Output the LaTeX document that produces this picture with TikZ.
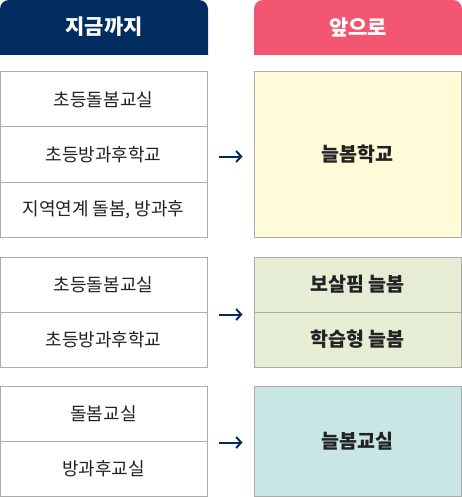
\documentclass[tikz,border=0pt]{standalone}
\usepackage{fontspec}
\setmainfont{Noto Sans CJK KR}
\usepackage{tikz}
\usetikzlibrary{arrows.meta,positioning,calc}
\definecolor{navy}{RGB}{0,44,94}
\definecolor{rose}{RGB}{243,86,112}
\definecolor{paleyellow}{RGB}{255,250,215}
\definecolor{palegreen}{RGB}{229,237,213}
\definecolor{paleteal}{RGB}{200,230,228}
\definecolor{linegray}{RGB}{171,171,171}
\definecolor{ink}{RGB}{34,34,34}
\tikzset{
  cell/.style={draw=linegray,line width=1pt,fill=white,minimum width=207pt,
    minimum height=55pt,inner sep=0pt,font=\fontsize{18}{21}\selectfont,text=ink},
  newbox/.style={cell,font=\fontsize{19.5}{22}\selectfont\bfseries},
  headtext/.style={font=\fontsize{21}{24}\selectfont\bfseries,text=white},
  flow/.style={line width=2pt,navy,-{Straight Barb[length=5pt,width=11pt]},
    shorten <=11pt,shorten >=11pt}
}
\begin{document}
\begin{tikzpicture}[x=1pt,y=-1pt]
  \useasboundingbox (0,0) rectangle (462,497);
  % headers
  \fill[navy] (0,55) [rounded corners=9pt] -- (0,0) -- (208,0) [sharp corners] -- (208,55) -- cycle;
  \fill[rose] (254,55) [rounded corners=9pt] -- (254,0) -- (462,0) [sharp corners] -- (462,55) -- cycle;
  \node[headtext] (hnow) at (104,27) {지금까지};
  \node[headtext] (hnext) at (358,27) {앞으로};
  % group 1
  \node[cell] (a1) at (103.5,99.5) {초등돌봄교실};
  \node[cell] (a2) at (103.5,154.5) {초등방과후학교};
  \node[cell] (a3) at (103.5,209.5) {지역연계 돌봄, 방과후};
  \node[newbox,fill=paleyellow,minimum height=165pt] (na) at (357.5,154.5) {늘봄학교};
  % group 2
  \node[cell] (b1) at (103.5,284.5) {초등돌봄교실};
  \node[cell] (b2) at (103.5,339.5) {초등방과후학교};
  \node[newbox,fill=palegreen] (nb1) at (357.5,284.5) {보살핌 늘봄};
  \node[newbox,fill=palegreen] (nb2) at (357.5,339.5) {학습형 늘봄};
  % group 3
  \node[cell] (c1) at (103.5,413.5) {돌봄교실};
  \node[cell] (c2) at (103.5,468.5) {방과후교실};
  \node[newbox,fill=paleteal,minimum height=110pt] (nc) at (357.5,441) {늘봄교실};
  % arrows
  \draw[flow] ([yshift=-2pt]a2.east) -- ([yshift=-2pt]a2.east -| na.west);
  \draw[flow] ([yshift=-2pt]b1.south east) -- ([yshift=-2pt]nb1.south west);
  \draw[flow] ([yshift=-1pt]c1.south east) -- ([yshift=-1pt]c1.south east -| nc.west);
\end{tikzpicture}
\end{document}
